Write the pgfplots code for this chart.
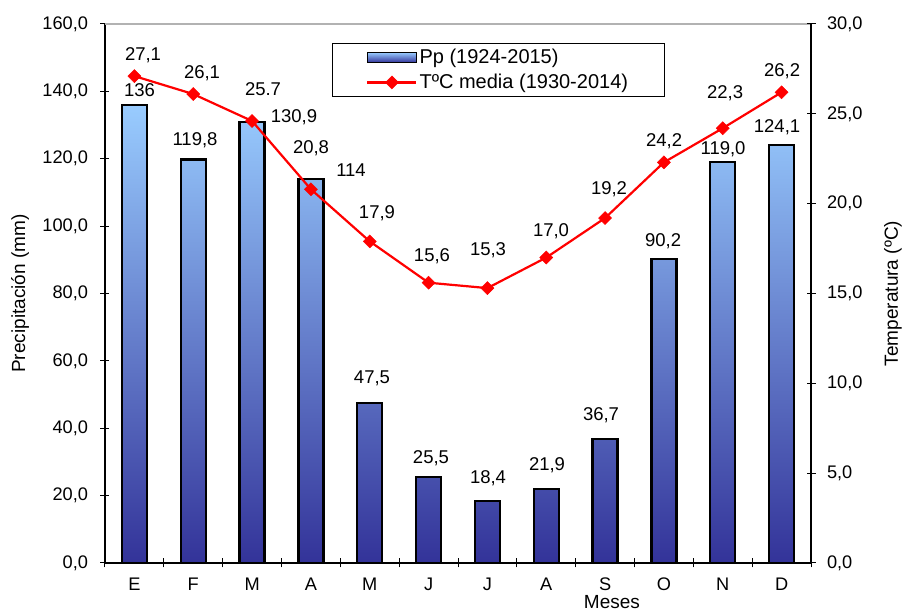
\documentclass[border=0pt]{standalone}
\usepackage{fontspec}
\setmainfont{Liberation Sans}
\usepackage{pgfplots}
\usepackage{pgfplotstable}
\pgfplotsset{compat=1.18}
\definecolor{barlight}{RGB}{153,204,255}
\definecolor{bardark}{RGB}{51,51,153}

\pgfplotstableread{
x p
0 136.0
1 119.8
2 130.9
3 114.0
4 47.5
5 25.5
6 18.4
7 21.9
8 36.7
9 90.2
10 119.0
11 124.1
}\pp

\pgfplotstableread{
x t
0 27.1
1 26.1
2 24.6
3 20.8
4 17.9
5 15.6
6 15.3
7 17.0
8 19.2
9 22.3
10 24.2
11 26.2
}\temp

\pgfplotstableread{
x y lab
0.086 139.5 136
1.030 125.0 119,8
2.713 131.8 130,9
3.682 115.8 114
4.038 54.3 47,5
5.041 30.6 25,5
6.010 24.6 18,4
7.013 28.5 21,9
7.931 43.3 36,7
8.985 95.0 90,2
10.005 122.3 119,0
10.923 128.8 124,1
}\pplab

\pgfplotstableread{
x y lab
0.146 28.16 27,1
1.149 27.16 26,1
2.186 26.21 25.7
3.002 22.98 20,8
4.123 19.37 17,9
5.058 16.97 15,6
6.010 17.31 15,3
7.081 18.36 17,0
8.067 20.70 19,2
9.002 23.37 24,2
10.039 26.04 22,3
11.008 27.27 26,2
}\templab

\pgfplotsset{
  common/.style={
    scale only axis, width=706pt, height=539pt,
    xmin=-0.5, xmax=11.5,
    clip=false,
    axis line style={line width=2pt, black, -},
    major tick length=9pt,
    tick align=center,
    tick style={black, line width=1pt},
    /pgf/number format/assume math mode=true,
    yticklabel style={/pgf/number format/fixed, /pgf/number format/fixed zerofill,
      /pgf/number format/precision=1, /pgf/number format/use comma},
    tick label style={font=\fontsize{18.2}{20}\selectfont},
    label style={font=\fontsize{19}{22}\selectfont},
  },
  labelplot/.style={draw=none, mark=none, nodes near coords, point meta=explicit symbolic,
    every node near coord/.append style={anchor=center, text=black,
      font=\fontsize{18.5}{22}\selectfont, text height=0.72em, text depth=0pt, inner sep=0pt}},
  lineleg/.style={legend image code/.code={\draw[mark repeat=2,mark phase=2,##1] plot coordinates {(0pt,0pt) (24.5pt,0pt) (49pt,0pt)};}},
  barleg/.style={legend image code/.code={\draw[draw=black, line width=1.8pt, top color=barlight, bottom color=bardark] (0pt,-5pt) rectangle (49pt,5pt);}},
}

\begin{document}
\begin{tikzpicture}
\begin{axis}[
  common,
  ymin=0, ymax=160,
  axis x line*=bottom, axis y line*=left,
  xtick={-0.5,0.5,...,11.5},
  x tick label as interval,
  xticklabels={E,F,M,A,M,J,J,A,S,O,N,D},
  xticklabel style={yshift=-7pt},
  ytick={0,20,...,160},
  yticklabel style={xshift=-9pt},
  ylabel={Precipitación (mm)},
  ylabel style={at={(axis description cs:-0.1204,0.5)}, anchor=center},
  xlabel={Meses},
  xlabel style={at={(axis description cs:0.718,-0.0724)}, anchor=center},
]
\coordinate (SW) at (rel axis cs:0,0);
\draw[gray!60, line width=1.2pt] (rel axis cs:0,1) -- (rel axis cs:1,1);
\addplot[ybar, bar width=25pt, draw=black, line width=2.2pt, top color=barlight, bottom color=bardark] table[x=x,y=p]{\pp};
\addplot[labelplot] table[x=x,y=y,meta=lab]{\pplab};
\end{axis}

\begin{axis}[
  common,
  ymin=0, ymax=30,
  axis x line=none, axis y line*=right,
  ytick={0,5,...,30},
  yticklabel style={xshift=8pt},
  ylabel={Temperatura (ºC)},
  ylabel style={at={(axis description cs:1.116,0.5)}, anchor=center},
  legend style={at={(axis description cs:0.3215,0.9647)}, anchor=north west,
    draw=black, line width=0.8pt, fill=white,
    font=\fontsize{20}{22}\selectfont,
    inner xsep=34pt, inner ysep=4pt, row sep=5pt},
  legend cell align=left,
]
\addlegendimage{barleg}
\addlegendentry{Pp (1924-2015)}
\addplot[red, line width=2.2pt, mark=square*, mark size=4.6pt,
  mark options={rotate=45, fill=red, draw=red, line width=0.5pt, solid}, lineleg]
  table[x=x,y=t]{\temp};
\addlegendentry{TºC media (1930-2014)}
\addplot[labelplot, forget plot] table[x=x,y=y,meta=lab]{\templab};
\end{axis}
\pgfresetboundingbox
\path[use as bounding box] ([shift={(-105pt,-49pt)}]SW) rectangle ([shift={(799pt,563pt)}]SW);
\end{tikzpicture}
\end{document}
